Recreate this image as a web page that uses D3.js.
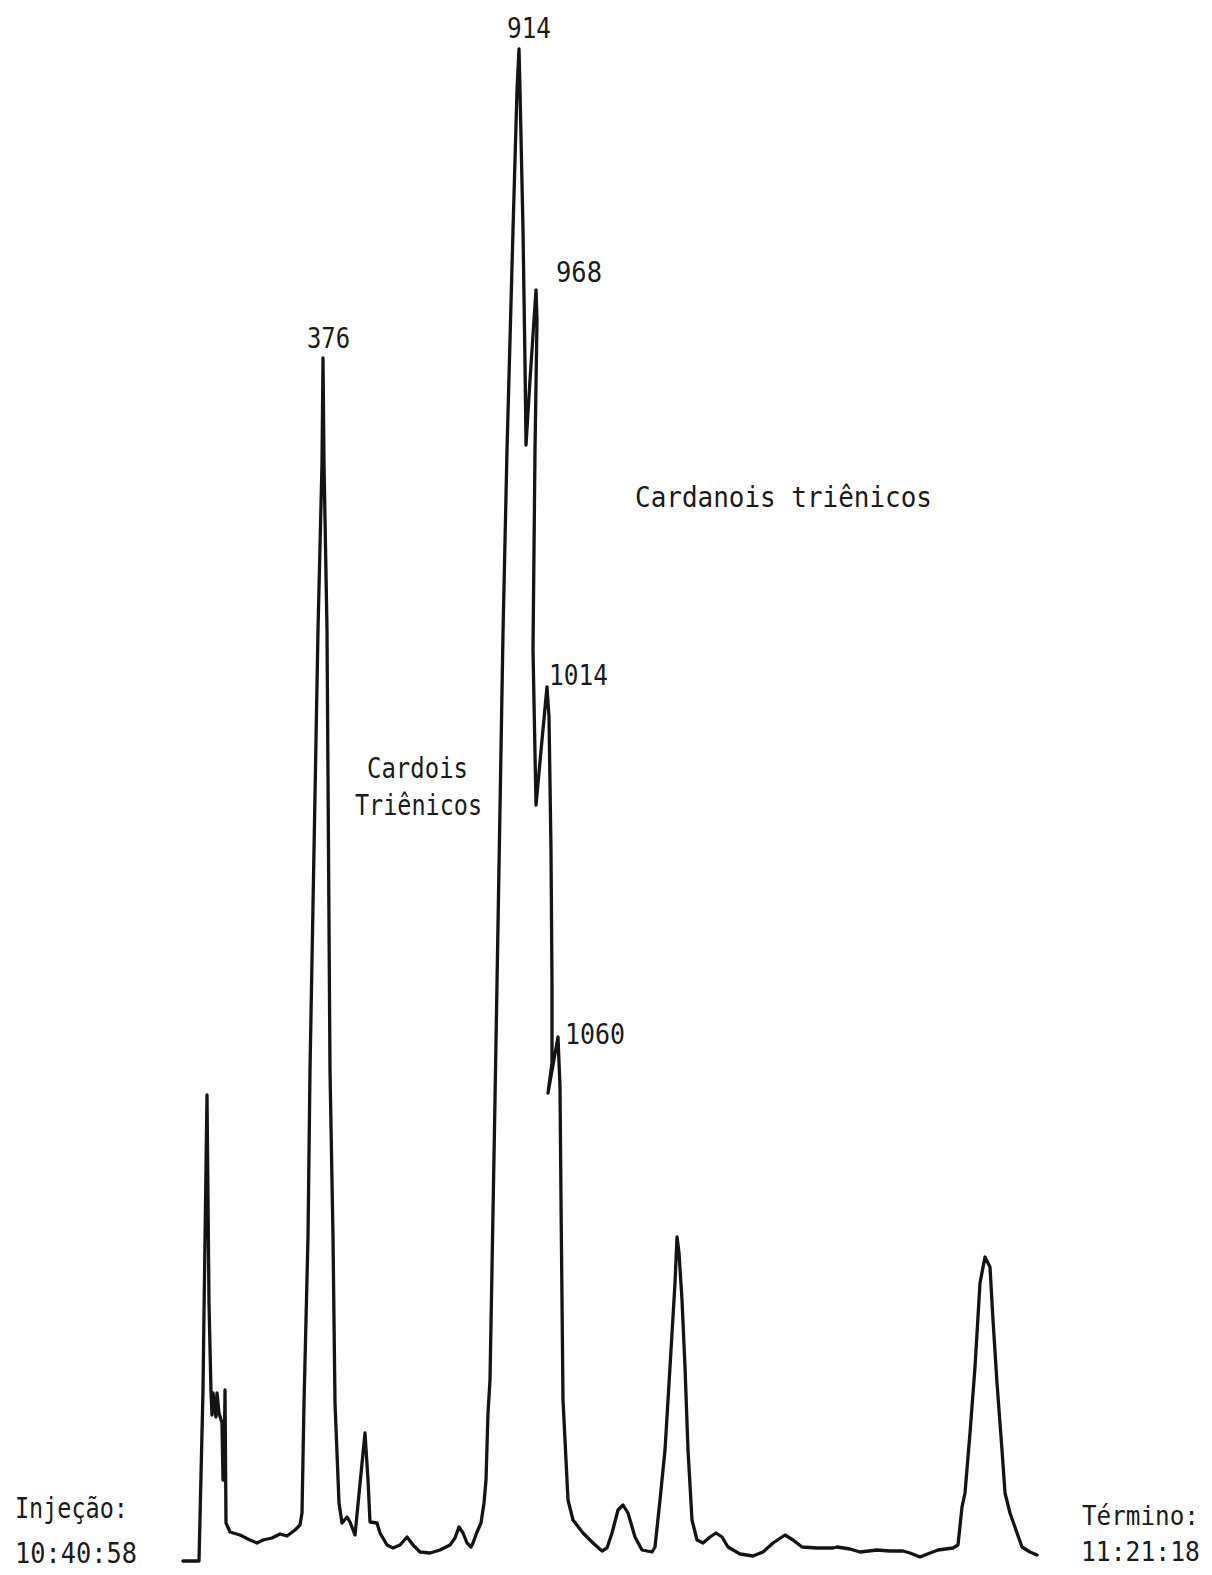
<!DOCTYPE html>
<html>
<head>
<meta charset="utf-8">
<script src="https://cdn.jsdelivr.net/npm/d3@7"></script>
<style>
  body { margin: 0; background: #fff; }
  text { font-family: "DejaVu Sans Mono", monospace; fill: #1b1b1b; }
</style>
</head>
<body>
<div id="chart"></div>
<script>
// recorder trace (x = paper distance, y = detector signal, arbitrary units)
var traceX = [0, 16, 20, 21, 24, 26, 28, 29, 30, 33, 34, 36, 39, 40, 41, 42, 43, 47, 57, 67, 74, 80, 89, 97, 104, 112, 117,
  119, 121, 125, 127, 135, 139, 140, 141, 144, 147, 150, 152, 156, 159, 164, 167, 172, 182, 185, 187, 194, 197, 204, 210,
  217, 224, 230, 237, 247, 257, 267, 272, 276, 280, 284, 288, 290, 294, 298, 301, 303, 305, 307, 312, 316, 320, 324, 330,
  334, 336, 337, 340, 342, 343, 347, 353, 354, 352, 350, 353, 359, 364, 366, 368, 369, 369, 365, 375, 377, 378, 380, 385,
  390, 400, 410, 419, 424, 429, 435, 440, 445, 452, 459, 469, 472, 477, 482, 487, 492, 494, 496, 499, 502, 505, 509, 514,
  520, 527, 533, 539, 545, 557, 570, 580, 590, 602, 610, 619, 634, 650, 654, 667, 677, 694, 707, 720, 727, 737, 747, 755,
  770, 775, 779, 782, 787, 792, 797, 802, 807, 810, 814, 819, 822, 827, 834, 839, 847, 854];
var traceY = [0, 0, 171, 248, 466, 258, 169, 146, 168, 144, 168, 148, 138, 81, 81, 171, 38, 29, 26, 21, 18, 21, 23, 27, 25, 31, 36,
  48, 158, 324, 491, 931, 1098, 1203, 1098, 931, 491, 324, 158, 58, 38, 44, 39, 26, 128, 81, 39, 38, 28, 16, 13,
  16, 24, 16, 9, 8, 11, 16, 23, 34, 28, 18, 14, 18, 29, 38, 58, 81, 148, 181, 461, 694, 928, 1111, 1331,
  1471, 1512, 1471, 1331, 1198, 1116, 1181, 1271, 1241, 1111, 911, 756, 821, 874, 844, 711, 578, 498, 468, 524, 474, 361, 161, 61,
  41, 28, 18, 10, 13, 28, 51, 56, 48, 24, 11, 9, 14, 61, 111, 194, 278, 324, 308, 261, 194, 111, 41, 21,
  18, 24, 28, 24, 14, 7, 5, 9, 18, 26, 21, 14, 13, 13, 14, 12, 9, 11, 10, 10, 8, 4, 8, 11,
  13, 16, 54, 68, 128, 194, 278, 304, 294, 241, 178, 111, 68, 48, 28, 14, 9, 6];

// labelled peaks (scan number) and their apex position on the trace
var peakLabels = ["376", "914", "968", "1014", "1060"];
var peakX = [140, 336, 353, 364, 375];
var peakY = [1203, 1512, 1271, 874, 524];

var w = 1212;
var h = 1575;

var svg = d3.select("#chart").append("svg")
  .attr("width", w)
  .attr("height", h);

var x = d3.scaleLinear().domain([0, 860]).range([183, 1043]);
var y = d3.scaleLinear().domain([0, 1530]).range([1561, 31]);

var points = traceX.map(function(d, i) { return [d, traceY[i]]; });

var line = d3.line()
  .x(function(d) { return x(d[0]); })
  .y(function(d) { return y(d[1]); });

svg.append("path")
  .datum(points)
  .attr("fill", "none")
  .attr("stroke", "#141414")
  .attr("stroke-width", 3.3)
  .attr("stroke-linejoin", "round")
  .attr("stroke-linecap", "round")
  .attr("d", line);

// peak number labels, placed next to each apex
var labelOffset = [
  { dx: -16, dy: -10, len: 43 },
  { dx: -12, dy: -11, len: 44 },
  { dx: 20, dy: -8, len: 46 },
  { dx: 2, dy: -2, len: 59 },
  { dx: 7, dy: 7, len: 60 }
];

svg.selectAll(".peak-label")
  .data(peakLabels)
  .enter().append("text")
  .attr("class", "peak-label")
  .attr("x", function(d, i) { return x(peakX[i]) + labelOffset[i].dx; })
  .attr("y", function(d, i) { return y(peakY[i]) + labelOffset[i].dy; })
  .attr("textLength", function(d, i) { return labelOffset[i].len; })
  .attr("lengthAdjust", "spacingAndGlyphs")
  .style("font-size", "28px")
  .text(function(d) { return d; });

// free annotations
var notes = [
  { t: "Cardanois triênicos", x: 635, y: 507, len: 297, a: "start", s: 29 },
  { t: "Cardois", x: 367, y: 778, len: 101, a: "start", s: 29 },
  { t: "Triênicos", x: 355, y: 815, len: 127, a: "start", s: 29 },
  { t: "Injeção:", x: 15, y: 1518, len: 113, a: "start", s: 29 },
  { t: "10:40:58", x: 15, y: 1563, len: 122, a: "start", s: 29 },
  { t: "Término:", x: 1199, y: 1525, len: 117, a: "end", s: 27 },
  { t: "11:21:18", x: 1200, y: 1561, len: 119, a: "end", s: 27 }
];

svg.selectAll(".note")
  .data(notes)
  .enter().append("text")
  .attr("class", "note")
  .attr("x", function(d) { return d.x; })
  .attr("y", function(d) { return d.y; })
  .attr("text-anchor", function(d) { return d.a; })
  .attr("textLength", function(d) { return d.len; })
  .attr("lengthAdjust", "spacingAndGlyphs")
  .style("font-size", function(d) { return d.s + "px"; })
  .text(function(d) { return d.t; });
</script>
</body>
</html>
